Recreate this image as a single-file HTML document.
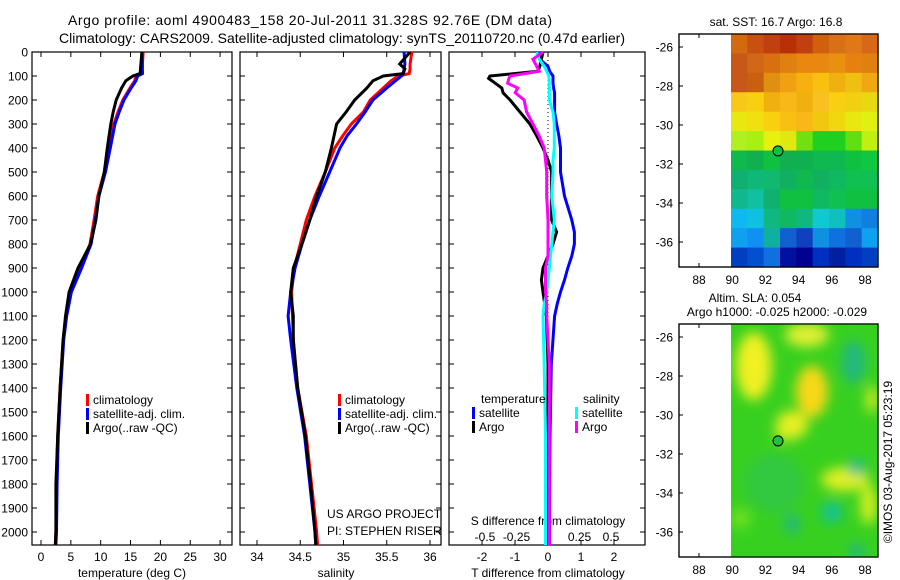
<!DOCTYPE html>
<html><head><meta charset="utf-8"><style>
html,body{margin:0;padding:0;background:#fff;}
svg{display:block;font-family:"Liberation Sans",sans-serif;}
</style></head><body>
<svg id="fig" width="900" height="580" viewBox="0 0 900 580" xmlns="http://www.w3.org/2000/svg">
<defs>
<clipPath id="c1"><rect x="32" y="52" width="200" height="493"/></clipPath>
<clipPath id="c2"><rect x="240" y="52" width="201" height="493"/></clipPath>
<clipPath id="c3"><rect x="449" y="52" width="196" height="493"/></clipPath>
<clipPath id="cm2"><rect x="731" y="324" width="147" height="233"/></clipPath>
<filter id="blur" x="-50%" y="-50%" width="200%" height="200%"><feGaussianBlur stdDeviation="6"/></filter>
</defs>
<text x="310" y="25" font-size="14" text-anchor="middle" textLength="484">Argo profile: aoml 4900483_158 20-Jul-2011 31.328S 92.76E (DM data)</text>
<text x="342" y="43" font-size="14" text-anchor="middle" textLength="566">Climatology: CARS2009. Satellite-adjusted climatology: synTS_20110720.nc (0.47d earlier)</text>
<g id="axes"></g>
<g id="series"></g>
<g id="maps"></g>
</svg>
<script>
// ---------- data ----------
const depthT = [0,90,100,120,150,200,250,300,400,500,600,700,800,900,1000,1100,1200,1400,1600,1800,2000,2055];
const tempClim = [17.1,16.9,15.9,15.7,14.9,13.7,12.9,12.2,11.4,10.6,9.5,8.9,8.2,6.6,5.0,4.2,3.7,3.2,2.8,2.6,2.5,2.4];
const tempSat  = [16.9,17.0,16.2,15.9,15.1,13.9,13.1,12.4,11.6,10.8,9.7,9.1,8.4,6.8,5.1,4.3,3.8,3.3,2.9,2.7,2.6,2.5];
const tempArgo = [16.9,16.6,15.4,14.2,13.5,12.6,12.1,11.7,11.1,10.6,9.7,9.2,8.3,6.2,4.7,4.1,3.7,3.2,2.8,2.5,2.5,2.4];

const depthS = [0,50,70,90,100,120,150,200,250,300,350,400,500,600,700,800,900,1000,1100,1200,1400,1600,1800,2000,2055];
const salClim = [35.79,35.77,35.77,35.76,35.63,35.55,35.46,35.31,35.23,35.09,34.99,34.90,34.79,34.67,34.57,34.50,34.43,34.40,34.41,34.42,34.47,34.57,34.63,34.69,34.70];
const salSat  = [35.70,35.71,35.70,35.69,35.67,35.60,35.50,35.34,35.25,35.15,35.04,34.96,34.84,34.72,34.61,34.52,34.44,34.39,34.36,34.39,34.46,34.55,34.61,34.67,34.68];
const salArgo = [35.77,35.65,35.71,35.69,35.46,35.34,35.27,35.13,35.03,34.92,34.89,34.86,34.79,34.69,34.61,34.52,34.42,34.39,34.42,34.42,34.47,34.56,34.62,34.67,34.68];

const depthD = [0,30,60,80,100,110,130,150,170,200,250,300,350,400,450,500,600,700,750,800,850,900,950,1000,1050,1100,1300,1600,1900,2055];
const dTArgo = [-0.15,-0.2,-0.25,-0.3,-1.76,-1.8,-1.6,-1.4,-1.36,-1.15,-0.85,-0.55,-0.34,-0.15,0,0.11,0.11,0.11,0.26,0.15,0,-0.15,-0.2,-0.15,-0.1,-0.05,0,0,0,0];
const dTSat  = [-0.3,-0.25,0,0.05,0.15,0.15,0.15,0.17,0.2,0.2,0.2,0.26,0.33,0.38,0.38,0.38,0.5,0.72,0.8,0.8,0.72,0.6,0.5,0.38,0.28,0.2,0.1,0.06,0.05,0.05];
const dSArgo = [-0.04,-0.12,-0.09,-0.07,-0.30,-0.31,-0.32,-0.24,-0.26,-0.19,-0.17,-0.12,-0.07,-0.03,-0.02,-0.01,-0.01,0,0,0,0,-0.02,-0.02,-0.02,-0.01,-0.01,0.01,0.01,0.01,0.01];
const dSSat  = [-0.09,-0.07,-0.03,-0.01,0.006,0.008,0.01,0.01,0.01,0.01,0.04,0.05,0.05,0.05,0.04,0.04,0.03,0.05,0.04,0.03,0.02,0.01,0,-0.01,-0.03,-0.04,-0.03,-0.02,-0.02,-0.02];

const depthTicks = [0,100,200,300,400,500,600,700,800,900,1000,1100,1200,1300,1400,1500,1600,1700,1800,1900,2000];
const tempTicks = [0,5,10,15,20,25,30];
const salTicks = [34,34.5,35,35.5,36];
const salTickLabels = ["34","34.5","35","35.5","36"];
const dTTicks = [-2,-1,0,1,2];
const dSTicks = [-0.5,-0.25,0,0.25,0.5];
const dSTickLabels = ["-0.5","-0.25","0","0.25","0.5"];
const lonTicks = [88,90,92,94,96,98];
const latTicks = [-26,-28,-30,-32,-34,-36];
const argoLon = 92.76, argoLat = -31.33;

// ---------- scales ----------
const yD = d => 52 + d*0.24;
const xT = t => 41 + t*5.97;
const xS = s => 257 + (s-34)*86.5;
const xDT = v => 548 + v*33;
const xDS = v => 548 + v*126;

const NS = "http://www.w3.org/2000/svg";
const fig = document.getElementById('fig');
const axes = document.getElementById('axes');
const series = document.getElementById('series');
const maps = document.getElementById('maps');
function mk(tag, attrs, parent){const e=document.createElementNS(NS,tag);for(const k in attrs)e.setAttribute(k,attrs[k]);(parent||fig).appendChild(e);return e;}
function txt(x,y,s,size,anchor,parent){const e=mk('text',{x:x,y:y,'font-size':size,'text-anchor':anchor||'middle'},parent);e.textContent=s;return e;}

// ---------- panels ----------
const panels = [{x:32,w:200,name:'temperature-panel'},{x:240,w:201,name:'salinity-panel'},{x:449,w:196,name:'difference-panel'}];
panels.forEach(p=>{
  const r = mk('rect',{x:p.x,y:52,width:p.w,height:493,fill:'none',stroke:'#000','stroke-width':1.2},axes);
  
  
});
depthTicks.forEach(d=>{
  const y=yD(d);
  mk('line',{x1:32,x2:37,y1:y,y2:y,stroke:'#000'},axes);
  mk('line',{x1:232,x2:227,y1:y,y2:y,stroke:'#000'},axes);
  mk('line',{x1:240,x2:245,y1:y,y2:y,stroke:'#000'},axes);
  mk('line',{x1:441,x2:436,y1:y,y2:y,stroke:'#000'},axes);
  mk('line',{x1:449,x2:454,y1:y,y2:y,stroke:'#000'},axes);
  mk('line',{x1:645,x2:640,y1:y,y2:y,stroke:'#000'},axes);
  const t=txt(28,y+4.5,String(d),12,'end',axes);
  
  
});
tempTicks.forEach(v=>{
  const x=xT(v);
  mk('line',{x1:x,x2:x,y1:52,y2:57,stroke:'#000'},axes);
  mk('line',{x1:x,x2:x,y1:545,y2:540,stroke:'#000'},axes);
  const t=txt(x,561,String(v),12,'middle',axes);
  
  
});
salTicks.forEach((v,i)=>{
  const x=xS(v);
  mk('line',{x1:x,x2:x,y1:52,y2:57,stroke:'#000'},axes);
  mk('line',{x1:x,x2:x,y1:545,y2:540,stroke:'#000'},axes);
  const t=txt(x,561,salTickLabels[i],12,'middle',axes);
  
  
});
dTTicks.forEach(v=>{
  const x=xDT(v);
  mk('line',{x1:x,x2:x,y1:52,y2:57,stroke:'#000'},axes);
  mk('line',{x1:x,x2:x,y1:545,y2:540,stroke:'#000'},axes);
  const t=txt(x,561,String(v),12,'middle',axes);
  
  
});
dSTicks.forEach((v,i)=>{
  const t=txt(xDS(v),541,dSTickLabels[i],12,'middle',axes);
  
  
});
mk('line',{x1:548,x2:548,y1:52,y2:545,stroke:'#000','stroke-dasharray':'1,3'},axes);

let t;
t=txt(132,577,'temperature (deg C)',12,'middle',axes);
t=txt(336,577,'salinity',12,'middle',axes);
t=txt(548,577,'T difference from climatology',12,'middle',axes);
t=txt(548,525,'S difference from climatology',12,'middle',axes);
t=txt(327,518,'US ARGO PROJECT',12,'start',axes);
t=txt(327,535,'PI: STEPHEN RISER',12,'start',axes);

// ---------- series ----------
function line(xs, ds, xf, color, clip, name){
  const pts = xs.map((v,i)=>xf(v).toFixed(1)+','+yD(ds[i]).toFixed(1)).join(' ');
  const p = mk('polyline',{points:pts,fill:'none',stroke:color,'stroke-width':3,'clip-path':'url(#'+clip+')','stroke-linejoin':'miter'},series);
  
  
}
line(tempClim, depthT, xT, '#ff0000', 'c1', 'temp-climatology-line');
line(tempSat, depthT, xT, '#0000ff', 'c1', 'temp-satellite-line');
line(tempArgo, depthT, xT, '#000000', 'c1', 'temp-argo-line');
line(salClim, depthS, xS, '#ff0000', 'c2', 'sal-climatology-line');
line(salSat, depthS, xS, '#0000ff', 'c2', 'sal-satellite-line');
line(salArgo, depthS, xS, '#000000', 'c2', 'sal-argo-line');
line(dTSat, depthD, xDT, '#0000ff', 'c3', 'dt-satellite-line');
line(dTArgo, depthD, xDT, '#000000', 'c3', 'dt-argo-line');
line(dSSat, depthD, xDS, '#00ffff', 'c3', 'ds-satellite-line');
line(dSArgo, depthD, xDS, '#ff00ff', 'c3', 'ds-argo-line');

// ---------- legends ----------
function legItem(x,y,color,label,name){
  const g = mk('g',{},series);
  
  
  mk('rect',{x:x,y:y-10,width:3,height:12,fill:color},g);
  txt(x+7,y,label,12,'start',g);
}
legItem(86,404,'#ff0000','climatology','legend-climatology');
legItem(86,418,'#0000ff','satellite-adj. clim.','legend-satellite-adj');
legItem(86,432,'#000000','Argo(..raw -QC)','legend-argo');
legItem(338,404,'#ff0000','climatology','legend-climatology-2');
legItem(338,418,'#0000ff','satellite-adj. clim.','legend-satellite-adj-2');
legItem(338,432,'#000000','Argo(..raw -QC)','legend-argo-2');
t=txt(481,403,'temperature',12,'start',series);
t=txt(583,403,'salinity',12,'start',series);
legItem(472,417,'#0000ff','satellite','legend-t-satellite');
legItem(472,431,'#000000','Argo','legend-t-argo');
legItem(575,417,'#00ffff','satellite','legend-s-satellite');
legItem(575,431,'#ff00ff','Argo','legend-s-argo');

// ---------- maps ----------
const xL = lon => 699 + (lon-88)*16.6;
function mapAxes(top, name){
  const yLat = lat => top + 13 + (-26-lat)*19.5;
  const g = mk('g',{},maps);
  
  
  mk('rect',{x:679,y:top,width:199,height:233,fill:'none',stroke:'#000','stroke-width':1.2},g);
  lonTicks.forEach(v=>{const x=xL(v);
    mk('line',{x1:x,x2:x,y1:top,y2:top+4,stroke:'#000'},g);
    mk('line',{x1:x,x2:x,y1:top+233,y2:top+229,stroke:'#000'},g);
    txt(x,top+250,String(v),12,'middle',g);});
  latTicks.forEach(v=>{const y=yLat(v);
    mk('line',{x1:679,x2:683,y1:y,y2:y,stroke:'#000'},g);
    mk('line',{x1:878,x2:874,y1:y,y2:y,stroke:'#000'},g);
    txt(673,y+4.5,String(v),12,'end',g);});
  return yLat;
}
const sstRows = [
 ['#d46a10','#c85010','#c04010','#b83008','#c04010','#d06010','#d87018','#e07818','#d86818'],
 ['#c85818','#d06818','#d87010','#e08010','#e88810','#e88810','#e89010','#e88010','#e08010'],
 ['#c85818','#c86010','#e09010','#f0a010','#f8b010','#f8c010','#f0b010','#f0c010','#f0a810'],
 ['#f8c818','#f8d010','#f0b010','#f8b818','#f0b010','#f8c020','#f8d010','#f0d010','#e8d810'],
 ['#e8e810','#f0e010','#f8d010','#f8c010','#f8b818','#f0c810','#f0d810','#e8e810','#e0f010'],
 ['#b0f020','#a8f010','#e8f010','#e0e810','#70e010','#20d020','#20d020','#60e010','#c0f010'],
 ['#10b850','#10b050','#10c040','#10b050','#10b050','#10b850','#10b850','#10c040','#10c840'],
 ['#10b070','#10b878','#10b870','#10b060','#10b850','#10b060','#10b860','#10c050','#10c050'],
 ['#10b890','#10c0a0','#10b070','#10c040','#10c040','#10b860','#10c050','#10c040','#10c040'],
 ['#10b8f0','#10c0e0','#10b880','#10b860','#10b880','#10c8d0','#10c0c0','#1090e0','#1080e0'],
 ['#10a0f0','#1090f0','#10b0a0','#1060d0','#1040c0','#1090e0','#1070e0','#1060d0','#10a0f0'],
 ['#0040c0','#0050d0','#1070e0','#0010a0','#000090','#0030c0','#0020a0','#0030c0','#0040c0']
];
const y1 = mapAxes(34,'sst-map');
const sst = mk('g',{},maps);


const cw = (878-731)/9, rh = 233/12;
sstRows.forEach((row,r)=>row.forEach((c,ci)=>{
  mk('rect',{x:731+ci*cw,y:34+r*rh,width:cw+0.6,height:rh+0.6,fill:c},sst);
}));
mk('rect',{x:679,y:34,width:199,height:233,fill:'none',stroke:'#000','stroke-width':1.2},maps);
const dot1 = mk('circle',{cx:xL(argoLon),cy:y1(argoLat),r:5,fill:'#10c040',stroke:'#000'},maps);



const y2 = mapAxes(324,'sla-map');
const sla = mk('g',{'clip-path':'url(#cm2)'},maps);


mk('rect',{x:731,y:324,width:147,height:233,fill:'#38d020'},sla);
const blobs = mk('g',{filter:'url(#blur)'},sla);
[[92.5,-33.5,30,30,'#30c840'],[90.5,-35.3,10,10,'#70e020'],
 [91.3,-27.5,18,34,'#f0f020'],[94.8,-28.8,16,26,'#f8d818'],[93.6,-30.5,16,14,'#e8f020'],[93.2,-31,10,6,'#e0f020'],[94.5,-25.9,22,12,'#e0f030'],
 [96.8,-33.3,24,12,'#e0f020'],[98.2,-34.6,8,20,'#d8f020'],[98.4,-29.2,5,14,'#e8f020'],
 [97.3,-27.3,12,22,'#20b880'],[96,-35,10,10,'#10c0a0'],[93.6,-35.6,8,10,'#20b880'],[97.5,-32.7,8,8,'#20b8a0'],[97.5,-37,8,8,'#20b880'],[96.5,-33.3,0,0,'#000']
].forEach(b=>{if(b[2]>0) mk('ellipse',{cx:xL(b[0]),cy:y2(b[1]),rx:b[2],ry:b[3],fill:b[4]},blobs);});
mk('rect',{x:679,y:324,width:199,height:233,fill:'none',stroke:'#000','stroke-width':1.2},maps);
const dot2 = mk('circle',{cx:xL(argoLon),cy:y2(argoLat),r:5,fill:'#20c040',stroke:'#000'},maps);



t=txt(776,26,'sat. SST: 16.7 Argo: 16.8',12,'middle',maps);
t=txt(755,302,'Altim. SLA: 0.054',12,'middle',maps);
t=txt(777,316,'Argo h1000: -0.025 h2000: -0.029',12,'middle',maps);
t=mk('text',{x:0,y:0,'font-size':12,'text-anchor':'middle',transform:'translate(892,462) rotate(-90)'},maps);t.textContent='©IMOS 03-Aug-2017 05:23:19';


</script>
</body></html>
